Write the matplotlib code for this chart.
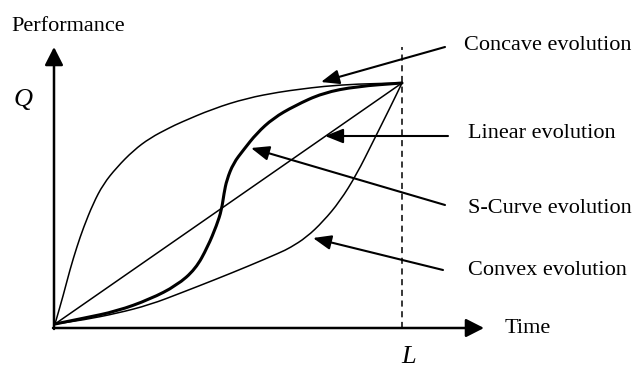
import matplotlib
matplotlib.use("Agg")
import matplotlib.pyplot as plt
from matplotlib.path import Path
from matplotlib.patches import PathPatch

# ---- data (normalised: time t/L, performance q/Q) ----
concave_t = [0, 0.024, 0.043, 0.063, 0.082, 0.110, 0.139, 0.178, 0.226, 0.274, 0.331, 0.360, 0.455, 0.553, 0.648, 0.706, 0.772, 0.870, 1.0]
concave_q = [0, 0.120, 0.225, 0.320, 0.400, 0.500, 0.580, 0.650, 0.720, 0.772, 0.815, 0.835, 0.893, 0.937, 0.963, 0.974, 0.986, 0.996, 1.0]

scurve_t = [0, 0.082, 0.178, 0.274, 0.351, 0.405, 0.440, 0.466, 0.480, 0.487, 0.495, 0.514, 0.543, 0.581, 0.629, 0.690, 0.772, 0.870, 1.0]
scurve_q = [0, 0.024, 0.053, 0.103, 0.160, 0.228, 0.320, 0.410, 0.473, 0.542, 0.598, 0.667, 0.722, 0.791, 0.854, 0.905, 0.959, 0.986, 1.0]

convex_t = [0, 0.082, 0.178, 0.274, 0.365, 0.461, 0.557, 0.648, 0.677, 0.725, 0.773, 0.821, 0.869, 0.917, 0.965, 1.0]
convex_q = [0, 0.017, 0.044, 0.080, 0.130, 0.184, 0.240, 0.296, 0.316, 0.360, 0.426, 0.509, 0.620, 0.758, 0.896, 1.0]

linear_t = [0, 1.0]
linear_q = [0, 1.0]

labels = ["Concave evolution", "Linear evolution", "S-Curve evolution", "Convex evolution"]

# ---- figure ----
W, H = 637, 367
fig = plt.figure(figsize=(W / 100, H / 100), dpi=100)
ax = fig.add_axes([0, 0, 1, 1])
X0, Y0, X1, Y1 = 55, 324, 402, 83  # pixel of (0,0) and (1,1)
sx, sy = X1 - X0, Y0 - Y1
ax.set_xlim(-X0 / sx, (W - X0) / sx)
ax.set_ylim((Y0 - H) / sy, Y0 / sy)
ax.axis("off")

def P(px, py):
    return ((px - X0) / sx, (Y0 - py) / sy)

def smooth_curve(xs, ys, lw):
    # quadratic curve through midpoints of the read points (smooth rendering)
    pts = list(zip(xs, ys))
    verts = [pts[0]]
    codes = [Path.MOVETO]
    mids = [((pts[i][0] + pts[i + 1][0]) / 2, (pts[i][1] + pts[i + 1][1]) / 2) for i in range(len(pts) - 1)]
    verts.append(mids[0]); codes.append(Path.LINETO)
    for i in range(1, len(pts) - 1):
        verts += [pts[i], mids[i]]
        codes += [Path.CURVE3, Path.CURVE3]
    verts.append(pts[-1]); codes.append(Path.LINETO)
    ax.add_patch(PathPatch(Path(verts, codes), facecolor="none", edgecolor="black", lw=lw,
                           capstyle="round", joinstyle="round"))

serif = "Liberation Serif"

# curves
smooth_curve(concave_t, concave_q, 1.1)
ax.plot(linear_t, linear_q, color="black", lw=1.1)
smooth_curve(convex_t, convex_q, 1.1)
smooth_curve(scurve_t, scurve_q, 2.2)

# dashed line at L
ax.plot([1, 1], [P(0, 328)[1], P(0, 47)[1]], color="black", lw=1.1, ls=(0, (4, 3)))

# axes arrows
axis_style = "-|>,head_length=0.55,head_width=0.28"
ax.annotate("", xy=P(54, 47), xytext=P(54, 329),
            arrowprops=dict(arrowstyle=axis_style, mutation_scale=20, lw=1.8, color="black",
                            shrinkA=0, shrinkB=0))
ax.annotate("", xy=P(484, 328), xytext=P(53, 328),
            arrowprops=dict(arrowstyle=axis_style, mutation_scale=20, lw=1.8, color="black",
                            shrinkA=0, shrinkB=0))

# pointer arrows
ptr_style = "-|>,head_length=0.55,head_width=0.22"
pointers = [((445, 47), (321, 82)),
            ((448, 136), (325, 136)),
            ((445, 205), (251, 148)),
            ((443, 270), (313, 238))]
for (tail, tip) in pointers:
    ax.annotate("", xy=P(*tip), xytext=P(*tail),
                arrowprops=dict(arrowstyle=ptr_style, mutation_scale=20, lw=1.5, color="black",
                                shrinkA=0, shrinkB=0))

label_pos = [(464, 50), (468, 138), (468, 213), (468, 275)]
for lab, (px, py) in zip(labels, label_pos):
    ax.text(*P(px, py), lab, family=serif, fontsize=16, ha="left", va="baseline")

ax.text(*P(11, 31), "Performance", family=serif, fontsize=16, ha="left", va="baseline")
ax.text(*P(505, 333), "Time", family=serif, fontsize=16, ha="left", va="baseline")
ax.text(*P(14, 106), "Q", family=serif, style="italic", fontsize=19, ha="left", va="baseline")
ax.text(*P(401, 363), "L", family=serif, style="italic", fontsize=19, ha="left", va="baseline")

fig.savefig("out.png", dpi=100)
